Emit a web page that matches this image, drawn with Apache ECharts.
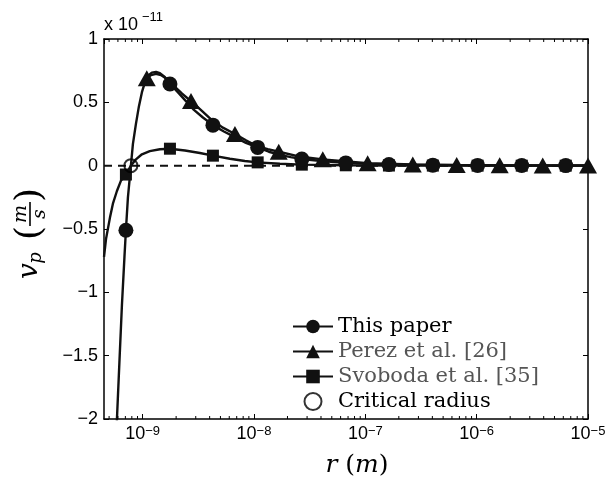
<!DOCTYPE html>
<html><head><meta charset="utf-8">
<script src="https://cdn.jsdelivr.net/npm/echarts@6/dist/echarts.min.js"></script>
<style>html,body{margin:0;padding:0;background:#fff}#c{width:616px;height:483px}</style>
</head><body><div id="c"></div>
<script>
// Axis ranges and ticks
const xMin = 4.5e-10, xMax = 1e-5;
const yMin = -2, yMax = 1, yStep = 0.5;
const decades = [1e-10, 1e-9, 1e-8, 1e-7, 1e-6];
const minorMultipliers = [2, 3, 4, 5, 6, 7, 8, 9];
const yExponent = -11;

// "This paper" (v_p in units of 1e-11 m/s)
const thisR = [5.73e-10, 5.88e-10, 6.19e-10, 6.52e-10, 6.87e-10, 7.38e-10, 7.85e-10, 8.18e-10, 8.71e-10, 9.27e-10, 9.86e-10, 1.05e-9, 1.12e-9, 1.21e-9, 1.32e-9, 1.43e-9, 1.58e-9, 2.07e-9, 2.45e-9, 2.89e-9, 3.48e-9, 5.37e-9, 6.75e-9, 8.47e-9, 1.36e-8, 1.71e-8, 2.14e-8, 4.24e-8, 1.05e-7, 1e-5];
const thisV = [-2.4, -2.0, -1.55, -1.1, -0.72, -0.25, 0.0, 0.17, 0.33, 0.47, 0.58, 0.66, 0.71, 0.735, 0.74, 0.73, 0.70, 0.58, 0.51, 0.44, 0.38, 0.27, 0.225, 0.18, 0.11, 0.085, 0.067, 0.035, 0.014, 0.0003];
const thisMarkR = [7.08e-10, 1.76e-9, 4.28e-9, 1.08e-8, 2.69e-8, 6.68e-8, 1.63e-7, 4.04e-7, 1.02e-6, 2.54e-6, 6.31e-6];
const thisMarkV = [-0.51, 0.645, 0.32, 0.144, 0.053, 0.022, 0.009, 0.004, 0.002, 0.001, 0.0005];

// Perez et al. [26]
const perezR = [1.19e-9, 1.32e-9, 1.46e-9, 1.65e-9, 1.91e-9, 2.25e-9, 3.33e-9, 4.19e-9, 5.26e-9, 8.47e-9, 1.06e-8, 1.33e-8, 2.64e-8];
const perezV = [0.715, 0.725, 0.715, 0.685, 0.63, 0.57, 0.44, 0.36, 0.30, 0.2, 0.155, 0.13, 0.07];
const perezMarkR = [1.09e-9, 2.72e-9, 6.75e-9, 1.67e-8, 4.15e-8, 1.05e-7, 2.67e-7, 6.62e-7, 1.61e-6, 3.92e-6, 1e-5];
const perezMarkV = [0.69, 0.51, 0.25, 0.11, 0.05, 0.02, 0.01, 0.005, 0.003, 0.002, 0.001];

// Svoboda et al. [35]
const svoR = [4.5e-10, 4.69e-10, 5.09e-10, 5.41e-10, 5.88e-10, 6.38e-10, 7.85e-10, 8.71e-10, 9.86e-10, 1.16e-9, 1.43e-9, 2.40e-9, 3.27e-9, 6.08e-9, 8.28e-9, 1.71e-8, 1e-5];
const svoV = [-0.72, -0.58, -0.41, -0.3, -0.2, -0.12, 0.0, 0.05, 0.09, 0.115, 0.13, 0.12, 0.10, 0.055, 0.037, 0.015, 0];
const svoMarkR = [7.08e-10, 1.76e-9, 4.28e-9, 1.08e-8, 2.69e-8, 6.68e-8, 1.63e-7, 4.04e-7, 1.02e-6, 2.54e-6, 6.31e-6];
const svoMarkV = [-0.07, 0.134, 0.079, 0.026, 0.008, 0.003, 0.001, 0.0005, 0, 0, 0];

// Critical radius
const critR = [7.85e-10];
const critV = [0];

// Zero reference line
const zeroR = [xMin, xMax];
const zeroV = [0, 0];

const names = ['This paper', 'Perez et al. [26]', 'Svoboda et al. [35]', 'Critical radius'];

function merged(lr, lv, mr, mv) {
  const items = [];
  lr.forEach((r, i) => items.push({ value: [r, lv[i]], symbol: 'none' }));
  mr.forEach((r, i) => items.push({ value: [r, mv[i]] }));
  items.sort((a, b) => a.value[0] - b.value[0]);
  return items;
}

const minorTicks = [];
decades.forEach(d => minorMultipliers.forEach(m => {
  const v = d * m;
  if (v > xMin && v < xMax) minorTicks.push([v, 0]);
}));

const FS = '"DejaVu Serif", serif';
const SANS = '"Liberation Sans", Arial, sans-serif';
const ink = '#111';

function expLabel(v) {
  const l = Math.log10(v);
  const e = Math.round(l);
  if (Math.abs(l - e) > 1e-6) return '';
  return '{b|10}{s|' + (e < 0 ? '\u2212' : '') + Math.abs(e) + '}';
}
function yLabel(v) {
  if (Math.abs(v) < 1e-9) return '0';
  return (v < 0 ? '\u2212' : '') + String(Math.abs(v));
}

const chart = echarts.init(document.getElementById('c'), null, { renderer: 'canvas' });
const lineCommon = { type: 'line', smooth: false, showSymbol: true, lineStyle: { color: ink, width: 2.4 }, itemStyle: { color: ink }, emphasis: { disabled: true }, z: 3 };

chart.setOption({
  animation: false,
  backgroundColor: '#fff',
  grid: { left: 104, right: 28, top: 39, bottom: 64, containLabel: false, outerBoundsMode: 'none' },
  xAxis: [
    {
      type: 'log', min: xMin, max: xMax, logBase: 10, position: 'bottom',
      axisLine: { onZero: false, lineStyle: { color: '#000', width: 1.5 } },
      axisTick: { inside: true, length: 5, lineStyle: { color: '#000', width: 1 } },
      splitLine: { show: false },
      axisLabel: {
        showMinLabel: false, margin: 6, formatter: expLabel,
        rich: {
          b: { fontSize: 18, fontFamily: SANS, color: '#000', lineHeight: 18, verticalAlign: 'bottom' },
          s: { fontSize: 13, fontFamily: SANS, color: '#000', lineHeight: 13, verticalAlign: 'top' }
        }
      },
      name: '{i|r}{n| (}{i|m}{n|)}', nameLocation: 'middle', nameGap: 34,
      nameTextStyle: {
        padding: [0, 0, 0, 22],
        rich: {
          i: { fontSize: 25, fontFamily: FS, fontStyle: 'italic', color: '#000' },
          n: { fontSize: 25, fontFamily: FS, color: '#000' }
        }
      }
    },
    {
      type: 'log', min: xMin, max: xMax, logBase: 10, position: 'top',
      axisLine: { onZero: false, lineStyle: { color: '#000', width: 1.5 } },
      axisTick: { inside: true, length: 5, lineStyle: { color: '#000', width: 1 } },
      axisLabel: { show: false }, splitLine: { show: false }
    }
  ],
  yAxis: [
    {
      type: 'value', min: yMin, max: yMax, interval: yStep, position: 'left',
      axisLine: { show: true, onZero: false, lineStyle: { color: '#000', width: 1.5 } },
      axisTick: { show: true, inside: true, length: 5, lineStyle: { color: '#000', width: 1 } },
      splitLine: { show: false },
      axisLabel: { fontSize: 18, fontFamily: SANS, color: '#000', margin: 6, formatter: yLabel }
    },
    {
      type: 'value', min: yMin, max: yMax, interval: yStep, position: 'right',
      axisLine: { show: true, onZero: false, lineStyle: { color: '#000', width: 1.5 } },
      axisTick: { show: true, inside: true, length: 5, lineStyle: { color: '#000', width: 1 } },
      splitLine: { show: false }, axisLabel: { show: false }
    }
  ],
  legend: {
    orient: 'vertical', left: 287, top: 311, itemWidth: 40, itemHeight: 17, itemGap: 4,
    textStyle: { fontFamily: FS, fontSize: 21, lineHeight: 21, color: '#000' },
    data: [
      { name: names[0], textStyle: { color: '#000' } },
      { name: names[1], textStyle: { color: '#555' } },
      { name: names[2], textStyle: { color: '#555' } },
      { name: names[3], textStyle: { color: '#000' } }
    ],
    selectedMode: false
  },
  graphic: [
    {
      type: 'group', x: 104, y: 0, silent: true,
      children: [
        { type: 'text', x: 0, y: 34, style: { text: 'x 10', fontSize: 18, fontFamily: SANS, fill: '#000', align: 'left', verticalAlign: 'bottom' } },
        { type: 'text', x: 38, y: 11, style: { text: '\u2212' + Math.abs(yExponent), fontSize: 13, fontFamily: SANS, fill: '#000', align: 'left', verticalAlign: 'top' } }
      ]
    },
    {
      type: 'group', x: 30, y: 240, rotation: Math.PI / 2, silent: true,
      children: [
        { type: 'text', x: -31, y: 0, style: { text: 'v', fontSize: 28, fontFamily: FS, fontStyle: 'italic', fill: '#000', align: 'center', verticalAlign: 'middle' } },
        { type: 'text', x: -18, y: 6, style: { text: 'p', fontSize: 18, fontFamily: FS, fontStyle: 'italic', fill: '#000', align: 'center', verticalAlign: 'middle' } },
        { type: 'text', x: 7, y: 1, style: { text: '(', fontSize: 36, fontFamily: FS, fill: '#000', align: 'center', verticalAlign: 'middle' } },
        { type: 'text', x: 26, y: -9, style: { text: 'm', fontSize: 19, fontFamily: FS, fontStyle: 'italic', fill: '#000', align: 'center', verticalAlign: 'middle' } },
        { type: 'line', shape: { x1: 14, y1: 0, x2: 38, y2: 0 }, style: { stroke: '#000', lineWidth: 1.6 } },
        { type: 'text', x: 26, y: 10, style: { text: 's', fontSize: 19, fontFamily: FS, fontStyle: 'italic', fill: '#000', align: 'center', verticalAlign: 'middle' } },
        { type: 'text', x: 45, y: 1, style: { text: ')', fontSize: 36, fontFamily: FS, fill: '#000', align: 'center', verticalAlign: 'middle' } }
      ]
    }
  ],
  series: [
    {
      name: 'zero', type: 'line', data: zeroR.map((r, i) => [r, zeroV[i]]), symbol: 'none',
      lineStyle: { color: ink, width: 2, type: [8, 6] }, z: 1, silent: true
    },
    {
      name: 'minorTicks', type: 'custom', data: minorTicks, silent: true, z: 5,
      renderItem: (params, api) => {
        const v = api.value(0);
        const b = api.coord([v, yMin]);
        const t = api.coord([v, yMax]);
        return {
          type: 'group', children: [
            { type: 'line', shape: { x1: b[0], y1: b[1], x2: b[0], y2: b[1] - 3 }, style: { stroke: '#000', lineWidth: 1 } },
            { type: 'line', shape: { x1: t[0], y1: t[1], x2: t[0], y2: t[1] + 3 }, style: { stroke: '#000', lineWidth: 1 } }
          ]
        };
      }
    },
    Object.assign({}, lineCommon, { name: names[2], symbol: 'rect', symbolSize: 12, data: merged(svoR, svoV, svoMarkR, svoMarkV) }),
    Object.assign({}, lineCommon, { name: names[0], symbol: 'circle', symbolSize: 15, data: merged(thisR, thisV, thisMarkR, thisMarkV) }),
    Object.assign({}, lineCommon, { name: names[1], symbol: 'triangle', symbolSize: [18, 16], data: merged(perezR, perezV, perezMarkR, perezMarkV) }),
    {
      name: names[3], type: 'scatter', data: critR.map((r, i) => [r, critV[i]]), symbol: 'circle', symbolSize: 13,
      itemStyle: { color: 'transparent', borderColor: '#000', borderWidth: 2 }, z: 6
    }
  ]
});
</script>
</body></html>
